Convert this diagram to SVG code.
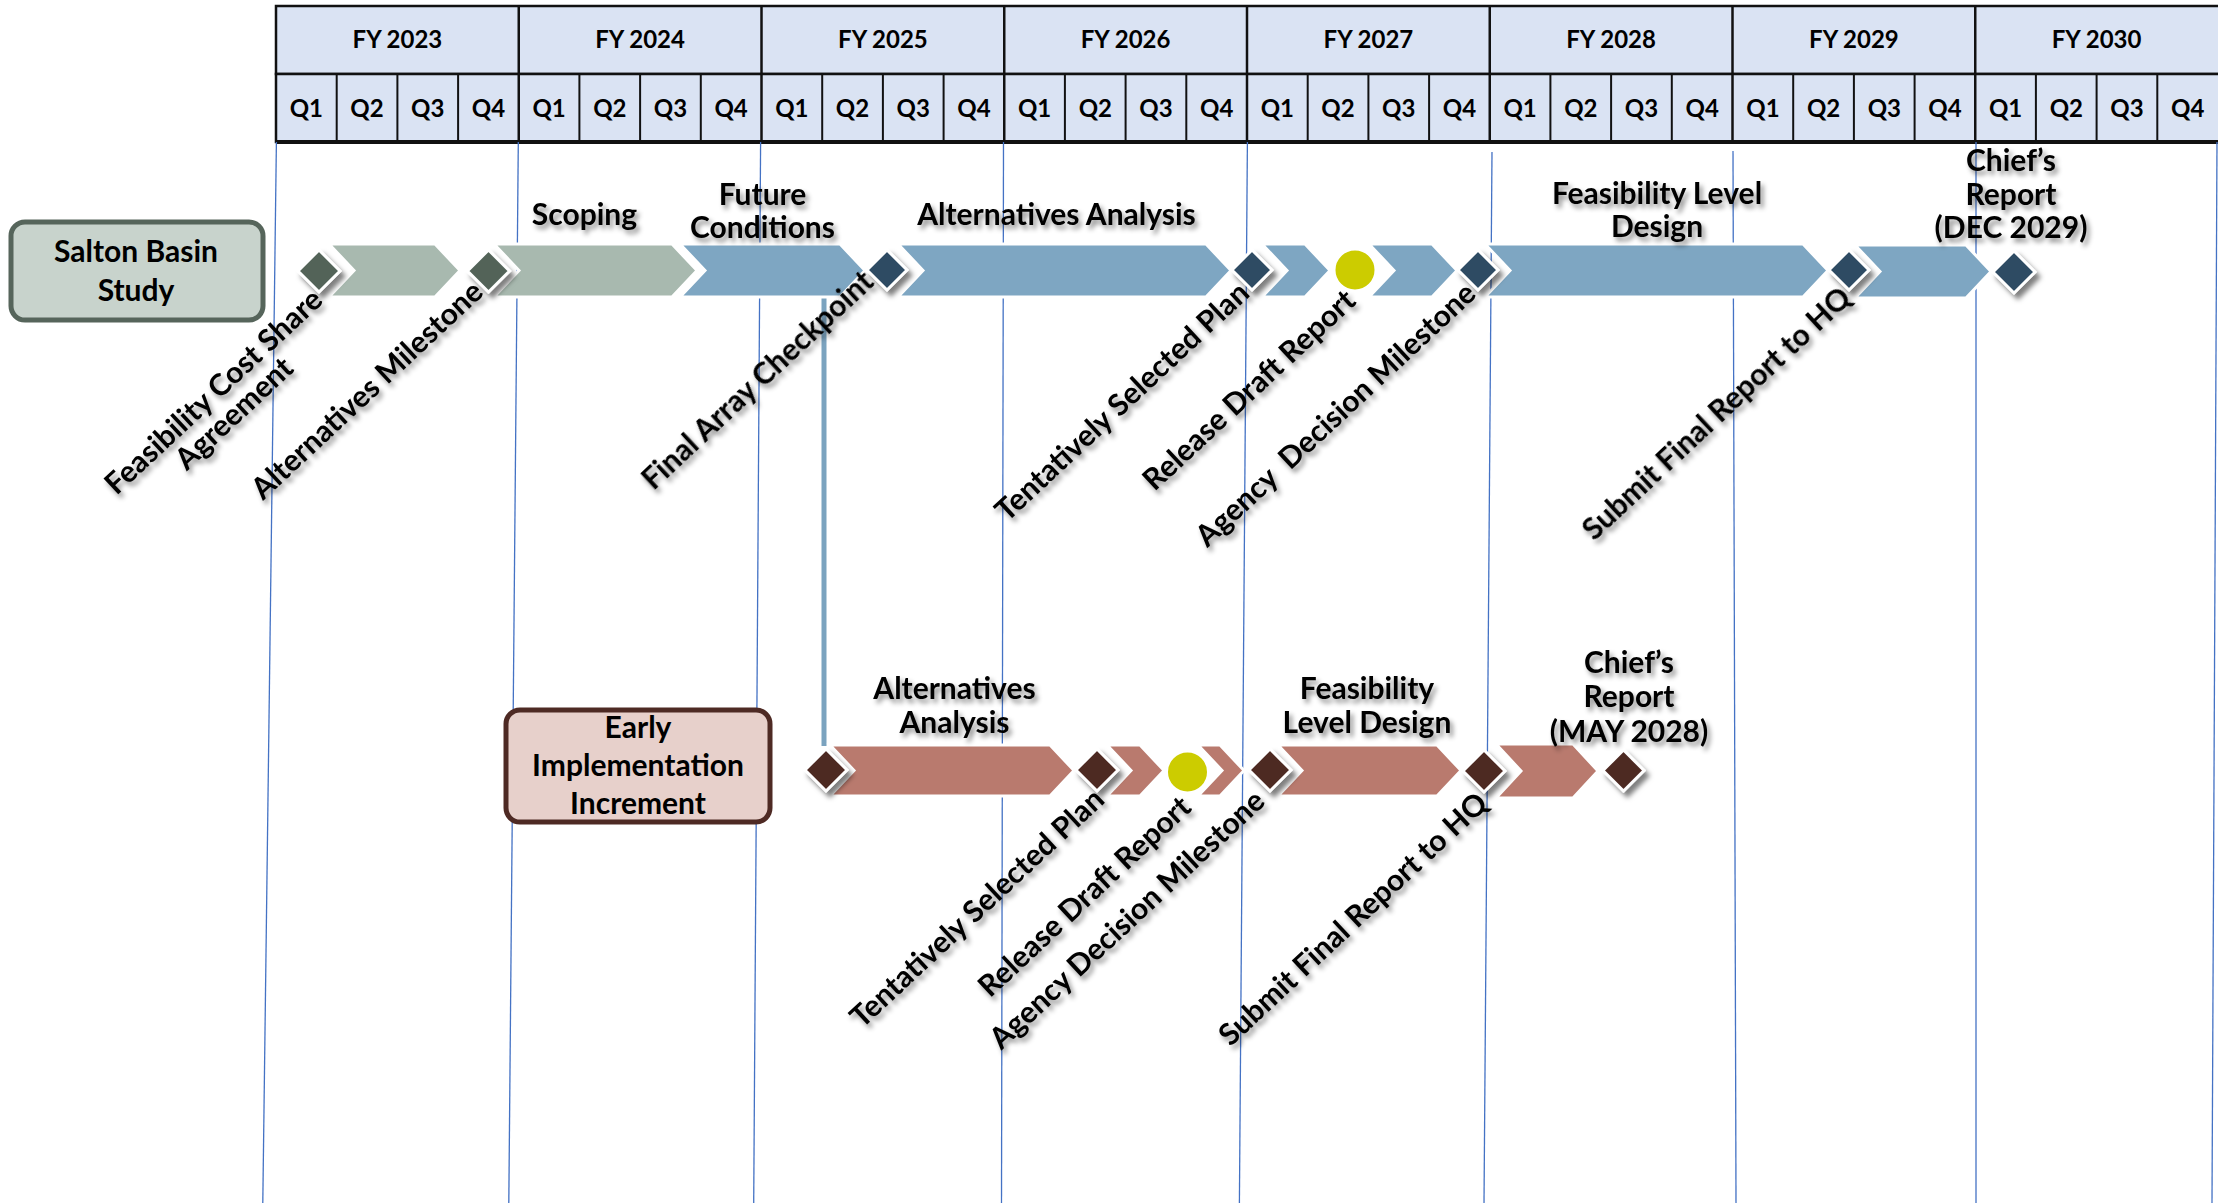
<svg xmlns="http://www.w3.org/2000/svg" width="2218" height="1203" viewBox="0 0 2218 1203">
<defs>
<filter id="tsh" x="-20%" y="-20%" width="140%" height="140%"><feDropShadow dx="3" dy="4" stdDeviation="2.4" flood-color="#000" flood-opacity="0.45"/></filter>
<filter id="dsh" x="-40%" y="-40%" width="180%" height="180%"><feDropShadow dx="4" dy="5" stdDeviation="2.5" flood-color="#000" flood-opacity="0.5"/></filter>
<style>
.hdr{fill:#DAE3F3;stroke:#111;stroke-width:2.5}
.ht{font-family:Lato,"Liberation Sans",sans-serif;font-weight:700;font-size:24px;text-anchor:middle;fill:#000}
.grid{stroke:#4472C4;stroke-width:1.3;fill:none}
.lb{font-family:Lato,"Liberation Sans",sans-serif;font-weight:700;font-size:30px;text-anchor:middle;fill:#000}
.rl{font-family:Lato,"Liberation Sans",sans-serif;font-weight:700;font-size:30px;text-anchor:middle;fill:#000;filter:url(#tsh)}
.sh{filter:url(#tsh)}
.cg{fill:#A8B9AF;stroke:#fff;stroke-width:3}
.cb{fill:#7EA6C2;stroke:#fff;stroke-width:3}
.cr{fill:#B97A6E;stroke:#fff;stroke-width:3}
.dg{fill:#536459;stroke:#fff;stroke-width:3;filter:url(#dsh)}
.db{fill:#2F4C63;stroke:#fff;stroke-width:3;filter:url(#dsh)}
.dr{fill:#4E2A24;stroke:#fff;stroke-width:3;filter:url(#dsh)}
.yc{fill:#CCCC00;stroke:#fff;stroke-width:2}
</style>
</defs>
<rect width="2218" height="1203" fill="#fff"/>

<g id="header">
<rect class="hdr" x="276" y="6" width="1950" height="68"/>
<rect class="hdr" x="276" y="74" width="1950" height="68"/>
<g stroke="#111" stroke-width="2.5">
<line x1="518.75" y1="6" x2="518.75" y2="142"/><line x1="761.5" y1="6" x2="761.5" y2="142"/><line x1="1004.25" y1="6" x2="1004.25" y2="142"/><line x1="1247" y1="6" x2="1247" y2="142"/><line x1="1489.75" y1="6" x2="1489.75" y2="142"/><line x1="1732.5" y1="6" x2="1732.5" y2="142"/><line x1="1975.25" y1="6" x2="1975.25" y2="142"/>
</g>
<g stroke="#111" stroke-width="2">
<line x1="336.7" y1="74" x2="336.7" y2="142"/><line x1="397.4" y1="74" x2="397.4" y2="142"/><line x1="458.1" y1="74" x2="458.1" y2="142"/>
<line x1="579.4" y1="74" x2="579.4" y2="142"/><line x1="640.1" y1="74" x2="640.1" y2="142"/><line x1="700.8" y1="74" x2="700.8" y2="142"/>
<line x1="822.2" y1="74" x2="822.2" y2="142"/><line x1="882.9" y1="74" x2="882.9" y2="142"/><line x1="943.6" y1="74" x2="943.6" y2="142"/>
<line x1="1064.9" y1="74" x2="1064.9" y2="142"/><line x1="1125.6" y1="74" x2="1125.6" y2="142"/><line x1="1186.3" y1="74" x2="1186.3" y2="142"/>
<line x1="1307.7" y1="74" x2="1307.7" y2="142"/><line x1="1368.4" y1="74" x2="1368.4" y2="142"/><line x1="1429.1" y1="74" x2="1429.1" y2="142"/>
<line x1="1550.4" y1="74" x2="1550.4" y2="142"/><line x1="1611.1" y1="74" x2="1611.1" y2="142"/><line x1="1671.8" y1="74" x2="1671.8" y2="142"/>
<line x1="1793.2" y1="74" x2="1793.2" y2="142"/><line x1="1853.9" y1="74" x2="1853.9" y2="142"/><line x1="1914.6" y1="74" x2="1914.6" y2="142"/>
<line x1="2035.9" y1="74" x2="2035.9" y2="142"/><line x1="2096.6" y1="74" x2="2096.6" y2="142"/><line x1="2157.3" y1="74" x2="2157.3" y2="142"/>
</g>
<line x1="276" y1="142" x2="2218" y2="142" stroke="#111" stroke-width="4"/>
<g class="ht">
<text x="397.4" y="48">FY 2023</text><text x="640.1" y="48">FY 2024</text><text x="882.9" y="48">FY 2025</text><text x="1125.6" y="48">FY 2026</text><text x="1368.4" y="48">FY 2027</text><text x="1611.1" y="48">FY 2028</text><text x="1853.9" y="48">FY 2029</text><text x="2096.6" y="48">FY 2030</text>
</g>
<g class="ht">
<text x="306.3" y="117">Q1</text><text x="367" y="117">Q2</text><text x="427.7" y="117">Q3</text><text x="488.4" y="117">Q4</text>
<text x="549.1" y="117">Q1</text><text x="609.8" y="117">Q2</text><text x="670.4" y="117">Q3</text><text x="731.1" y="117">Q4</text>
<text x="791.8" y="117">Q1</text><text x="852.5" y="117">Q2</text><text x="913.2" y="117">Q3</text><text x="973.9" y="117">Q4</text>
<text x="1034.6" y="117">Q1</text><text x="1095.3" y="117">Q2</text><text x="1156" y="117">Q3</text><text x="1216.7" y="117">Q4</text>
<text x="1277.3" y="117">Q1</text><text x="1338" y="117">Q2</text><text x="1398.7" y="117">Q3</text><text x="1459.4" y="117">Q4</text>
<text x="1520.1" y="117">Q1</text><text x="1580.8" y="117">Q2</text><text x="1641.5" y="117">Q3</text><text x="1702.2" y="117">Q4</text>
<text x="1762.9" y="117">Q1</text><text x="1823.6" y="117">Q2</text><text x="1884.3" y="117">Q3</text><text x="1945" y="117">Q4</text>
<text x="2005.6" y="117">Q1</text><text x="2066.3" y="117">Q2</text><text x="2127" y="117">Q3</text><text x="2187.7" y="117">Q4</text>
</g>
</g>

<g id="gridlines" class="grid">
<line x1="276.4" y1="142" x2="262.8" y2="1203"/>
<line x1="518.3" y1="142" x2="508.8" y2="1203"/>
<line x1="760.6" y1="142" x2="753.7" y2="1203"/>
<line x1="1003.5" y1="142" x2="1001.5" y2="1203"/>
<line x1="1247.4" y1="142" x2="1239.4" y2="1203"/>
<line x1="1492" y1="152" x2="1484" y2="1203"/>
<line x1="1733" y1="151" x2="1736" y2="1203"/>
<line x1="1976" y1="142" x2="1976" y2="1203"/>
<line x1="2217" y1="142" x2="2212" y2="1203"/>
</g>

<g id="connectors">
<line x1="824" y1="297" x2="824" y2="746" stroke="#7BA3BF" stroke-width="5"/>
</g>

<g id="salton-basin-study">
<rect x="11" y="222" width="252" height="98" rx="14" fill="#C8D3CC" stroke="#56655B" stroke-width="5"/>
<text class="lb" x="136" y="262">Salton Basin</text>
<text class="lb" x="136" y="301">Study</text>
</g>

<g id="top-row">
<path class="cg" d="M329,244 L435,244 L460,270.5 L435,297 L329,297 L354,270.5 Z"/>
<path class="cg" d="M494,244 L672,244 L697,270.5 L672,297 L494,297 L519,270.5 Z"/>
<path class="cb" d="M680,244 L840,244 L865,270.5 L840,297 L680,297 L705,270.5 Z"/>
<path class="cb" d="M898,244 L1206,244 L1231,270.5 L1206,297 L898,297 L923,270.5 Z"/>
<path class="cb" d="M1262,244 L1305,244 L1330,270.5 L1305,297 L1262,297 L1287,270.5 Z"/>
<path class="cb" d="M1369,244 L1432,244 L1457,270.5 L1432,297 L1369,297 L1394,270.5 Z"/>
<path class="cb" d="M1485,244 L1803,244 L1828,270.5 L1803,297 L1485,297 L1510,270.5 Z"/>
<path class="cb" d="M1855,245 L1966,245 L1991,271.5 L1966,298 L1855,298 L1880,271.5 Z"/>
<path class="dg" d="M319,250 L340,271 L319,292 L298,271 Z"/>
<path class="dg" d="M488.5,250 L509.5,271 L488.5,292 L467.5,271 Z"/>
<path class="db" d="M887,250 L907,270 L887,290 L867,270 Z"/>
<path class="db" d="M1252,250 L1272,270 L1252,290 L1232,270 Z"/>
<circle class="yc" cx="1355" cy="270" r="20.5"/>
<path class="db" d="M1478,250 L1498,270 L1478,290 L1458,270 Z"/>
<path class="db" d="M1849,250 L1869,270 L1849,290 L1829,270 Z"/>
<path class="db" d="M2014,251 L2035,272 L2014,293 L1993,272 Z"/>
<g class="lb sh">
<text x="584.5" y="225">Scoping</text>
<text x="762.5" y="205">Future</text><text x="762.5" y="238">Conditions</text>
<text x="1056.5" y="225">Alternatives Analysis</text>
<text x="1657" y="204">Feasibility Level</text><text x="1657" y="237">Design</text>
<text x="2011" y="171">Chief’s</text><text x="2011" y="205">Report</text><text x="2011" y="238">(DEC 2029)</text>
</g>
<g class="rl">
<g transform="translate(220.5,399) rotate(-43)"><text x="0" y="0">Feasibility Cost Share</text><text x="0" y="30">Agreement</text></g>
<text transform="translate(374,397.5) rotate(-43)">Alternatives Milestone</text>
<text transform="translate(764.5,387.6) rotate(-43)">Final Array Checkpoint</text>
<text transform="translate(1129,409) rotate(-43)">Tentatively Selected Plan</text>
<text transform="translate(1256,397.5) rotate(-43)">Release Draft Report</text>
<text transform="translate(1342.5,422) rotate(-43)" xml:space="preserve">Agency  Decision Milestone</text>
<text transform="translate(1723.5,421) rotate(-43)">Submit Final Report to HQ</text>
</g>
</g>

<g id="early-implementation-increment">
<rect x="506" y="710" width="264" height="112" rx="14" fill="#E7D0CB" stroke="#4E2A24" stroke-width="5"/>
<text class="lb" x="638" y="738">Early</text>
<text class="lb" x="638" y="776">Implementation</text>
<text class="lb" x="638" y="814">Increment</text>
</g>

<g id="bottom-row">
<path class="cr" d="M830,745 L1050,745 L1074,770.5 L1050,796 L830,796 L854,770.5 Z"/>
<path class="cr" d="M1107,745 L1140,745 L1164,770.5 L1140,796 L1107,796 L1131,770.5 Z"/>
<path class="cr" d="M1198,745 L1220,745 L1244,770.5 L1220,796 L1198,796 L1222,770.5 Z"/>
<path class="cr" d="M1278,745 L1437,745 L1461,770.5 L1437,796 L1278,796 L1302,770.5 Z"/>
<path class="cr" d="M1496,744 L1573,744 L1598,771 L1573,798 L1496,798 L1521,771 Z"/>
<path class="dr" d="M826,749 L847,770 L826,791 L805,770 Z"/>
<path class="dr" d="M1097,749 L1118,770 L1097,791 L1076,770 Z"/>
<circle class="yc" cx="1187.5" cy="772" r="20.5"/>
<path class="dr" d="M1270,749 L1291,770 L1270,791 L1249,770 Z"/>
<path class="dr" d="M1484,750 L1505,771 L1484,792 L1463,771 Z"/>
<path class="dr" d="M1623.5,750 L1644,770.5 L1623.5,791 L1603,770.5 Z"/>
<g class="lb sh">
<text x="954.5" y="699">Alternatives</text><text x="954.5" y="733">Analysis</text>
<text x="1367" y="699">Feasibility</text><text x="1367" y="733">Level Design</text>
<text x="1629" y="673">Chief’s</text><text x="1629" y="707">Report</text><text x="1629" y="742">(MAY 2028)</text>
</g>
<g class="rl">
<text transform="translate(984,915.5) rotate(-43)">Tentatively Selected Plan</text>
<text transform="translate(1091.5,904) rotate(-43)">Release Draft Report</text>
<text transform="translate(1134,927) rotate(-43)">Agency Decision Milestone</text>
<text transform="translate(1360,926.5) rotate(-43)">Submit Final Report to HQ</text>
</g>
</g>
</svg>
